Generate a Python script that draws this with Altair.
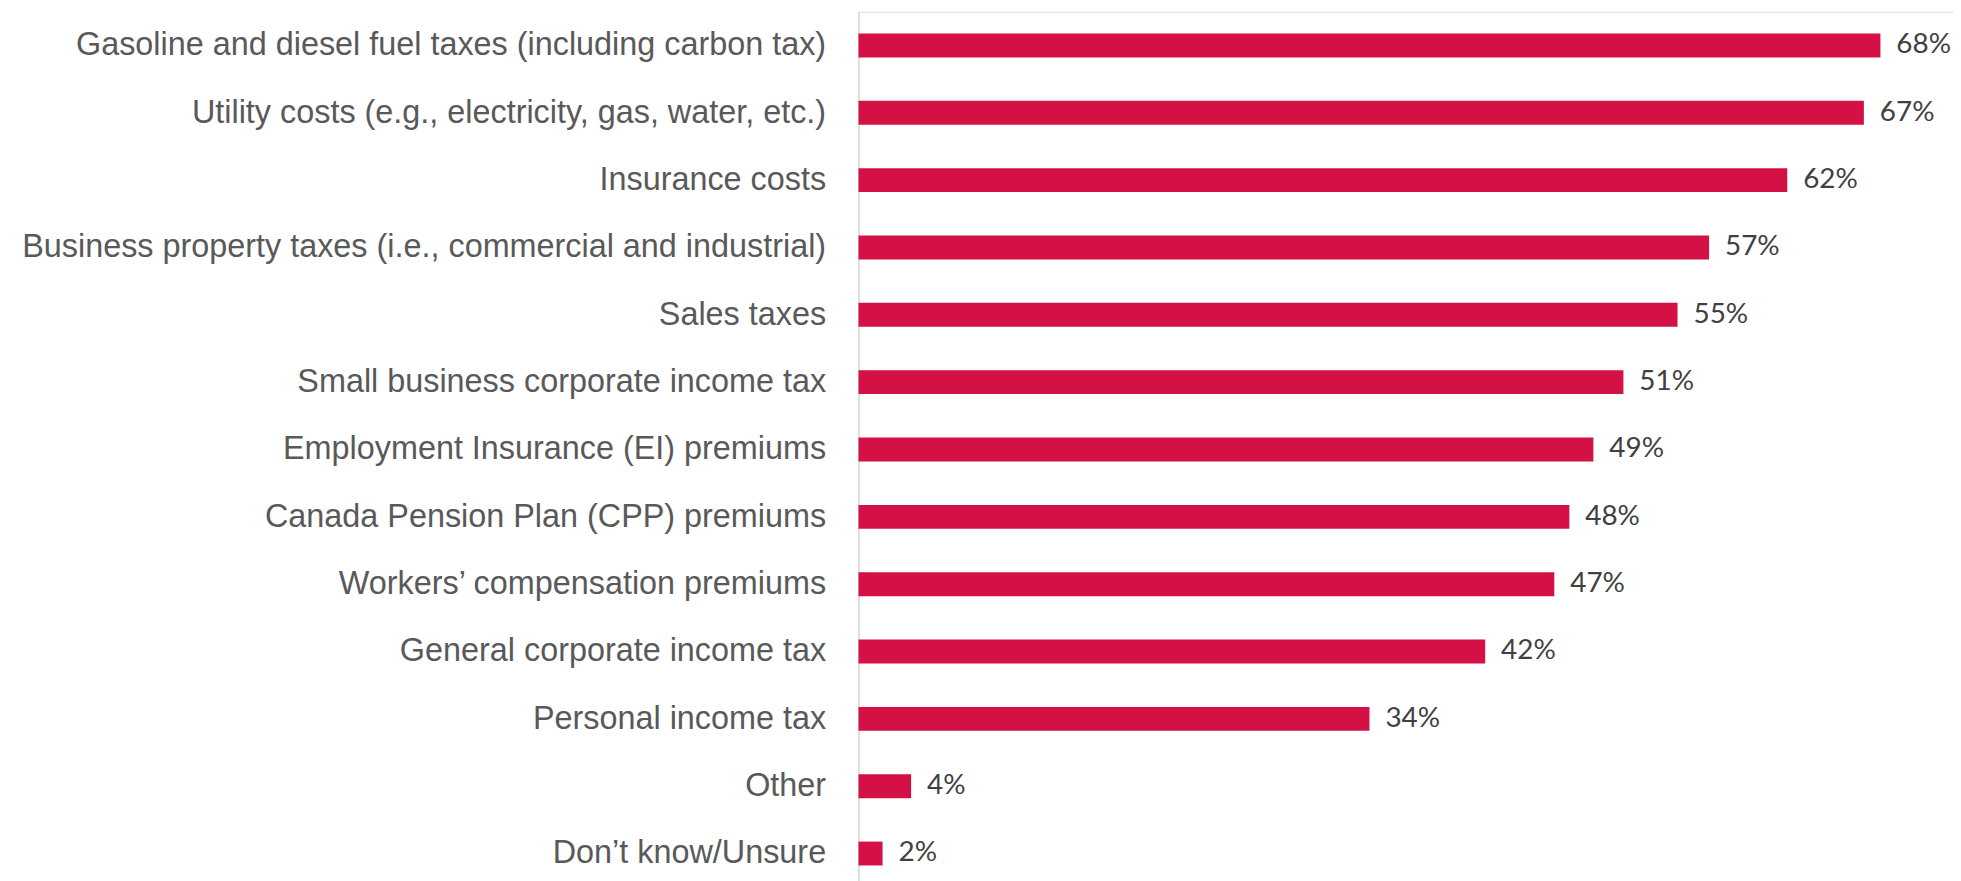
import altair as alt
import pandas as pd

categories = [
    "Gasoline and diesel fuel taxes (including carbon tax)",
    "Utility costs (e.g., electricity, gas, water, etc.)",
    "Insurance costs",
    "Business property taxes (i.e., commercial and industrial)",
    "Sales taxes",
    "Small business corporate income tax",
    "Employment Insurance (EI) premiums",
    "Canada Pension Plan (CPP) premiums",
    "Workers\u2019 compensation premiums",
    "General corporate income tax",
    "Personal income tax",
    "Other\u00a0",
    "Don\u2019t know/Unsure",
]
values = [68.0, 66.9, 61.8, 56.6, 54.5, 50.9, 48.9, 47.3, 46.3, 41.7, 34.0, 3.5, 1.6]
labels = ["68%", "67%", "62%", "57%", "55%", "51%", "49%", "48%", "47%", "42%", "34%", "4%", "2%"]

df = pd.DataFrame({"cat": categories, "val": values, "lab": labels})

W = 1099
H = 879
xscale = alt.Scale(domain=[0, 72.83], nice=False, zero=True)
yscale = alt.Scale(paddingInner=0.645, paddingOuter=0.3225)

y = alt.Y(
    "cat:N",
    sort=categories,
    scale=yscale,
    axis=alt.Axis(
        title=None,
        ticks=False,
        labelFont="Liberation Sans",
        labelFontSize=32.5,
        labelColor="#595959",
        labelPadding=33,
        labelLimit=900,
        domainColor="#d9d9d9",
        domainWidth=1.5,
        grid=False,
    ),
)

bars = alt.Chart(df).mark_bar(color="#D31145").encode(
    x=alt.X("val:Q", scale=xscale, axis=None),
    y=y,
)

text = alt.Chart(df).mark_text(
    align="left",
    baseline="middle",
    dx=16,
    font="Lato",
    fontSize=28,
    color="#404040",
).encode(
    x=alt.X("val:Q", scale=xscale, axis=None),
    y=alt.Y("cat:N", sort=categories, scale=yscale),
    text="lab:N",
)

chart = (
    alt.layer(bars, text)
    .properties(
        width=W,
        height=H,
        autosize=alt.AutoSizeParams(type="none"),
        padding={"left": 854, "top": 2, "right": 0, "bottom": 0},
    )
    .configure_view(stroke=None)
    .configure(background="white")
)

chart.save("out.html", embed_options={"renderer": "svg", "actions": False})
